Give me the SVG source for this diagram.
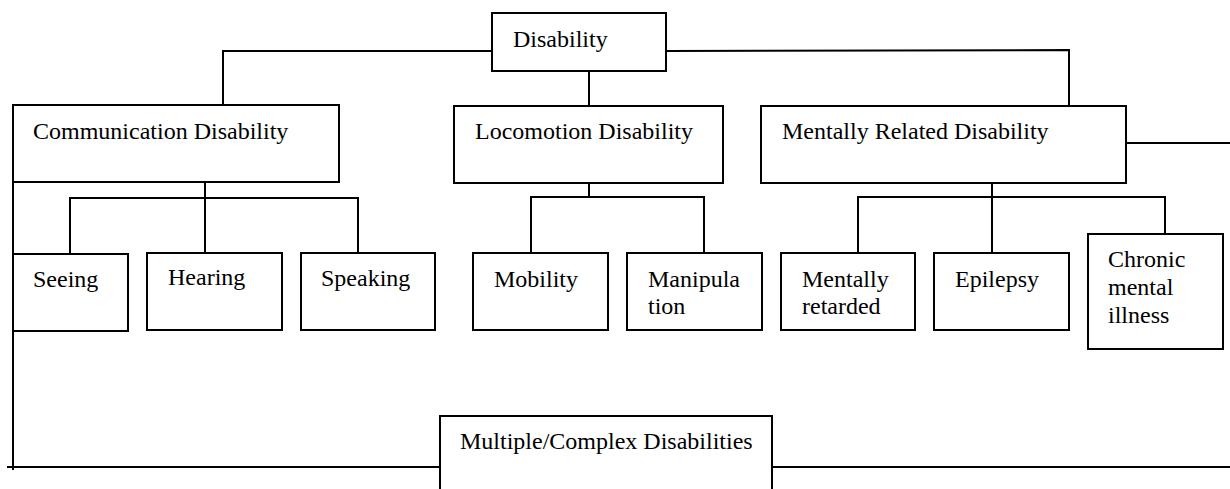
<svg xmlns="http://www.w3.org/2000/svg" width="1230" height="489" viewBox="0 0 1230 489">
<style>
.box{fill:#fff;stroke:#000;stroke-width:2}
.t{font-family:"Liberation Serif","Times New Roman",serif;font-size:24px;fill:#000}
.c{fill:none;stroke:#000;stroke-width:2}
</style>
<rect width="1230" height="489" fill="#fff"/>
<g id="connectors">
<polyline class="c" points="492,51 223,51 223,105"/>
<polyline class="c" points="666,51 1069,50 1069,106"/>
<line class="c" x1="589" y1="71" x2="589" y2="106"/>
<line class="c" x1="205" y1="182" x2="205" y2="253"/>
<polyline class="c" points="70,254 70,198 358,198 358,253"/>
<line class="c" x1="589" y1="183" x2="589" y2="197"/>
<polyline class="c" points="531,253 531,197 704,197 704,253"/>
<line class="c" x1="992" y1="183" x2="992" y2="253"/>
<polyline class="c" points="858,253 858,197 1165,197 1165,234"/>
<line class="c" x1="1126" y1="143" x2="1230" y2="143"/>
<line class="c" x1="13" y1="140" x2="13" y2="470"/>
<line class="c" x1="7" y1="467" x2="440" y2="467"/>
<line class="c" x1="772" y1="467" x2="1230" y2="467"/>
</g>
<g id="disability"><rect class="box" x="492" y="13" width="174" height="58"/><text class="t" x="513" y="47">Disability</text></g>
<g id="communication"><rect class="box" x="13" y="105" width="326" height="77"/><text class="t" x="33" y="139">Communication Disability</text></g>
<g id="locomotion"><rect class="box" x="454" y="106" width="269" height="77"/><text class="t" x="475" y="139">Locomotion Disability</text></g>
<g id="mental"><rect class="box" x="761" y="106" width="365" height="77"/><text class="t" x="782" y="139">Mentally Related Disability</text></g>
<g id="seeing"><rect class="box" x="13" y="254" width="115" height="77"/><text class="t" x="33" y="287">Seeing</text></g>
<g id="hearing"><rect class="box" x="147" y="253" width="135" height="77"/><text class="t" x="168" y="285">Hearing</text></g>
<g id="speaking"><rect class="box" x="301" y="253" width="134" height="77"/><text class="t" x="321" y="286">Speaking</text></g>
<g id="mobility"><rect class="box" x="473" y="253" width="135" height="77"/><text class="t" x="494" y="287">Mobility</text></g>
<g id="manipulation"><rect class="box" x="627" y="253" width="135" height="77"/><text class="t" x="648" y="287">Manipula</text><text class="t" x="648" y="314">tion</text></g>
<g id="retarded"><rect class="box" x="781" y="253" width="134" height="77"/><text class="t" x="802" y="287">Mentally</text><text class="t" x="802" y="314">retarded</text></g>
<g id="epilepsy"><rect class="box" x="934" y="253" width="135" height="77"/><text class="t" x="955" y="287">Epilepsy</text></g>
<g id="chronic"><rect class="box" x="1088" y="234" width="135" height="115"/><text class="t" x="1108" y="267">Chronic</text><text class="t" x="1108" y="295">mental</text><text class="t" x="1108" y="323">illness</text></g>
<g id="multiple"><rect class="box" x="440" y="416" width="332" height="90"/><text class="t" x="460" y="449">Multiple/Complex Disabilities</text></g>
</svg>
